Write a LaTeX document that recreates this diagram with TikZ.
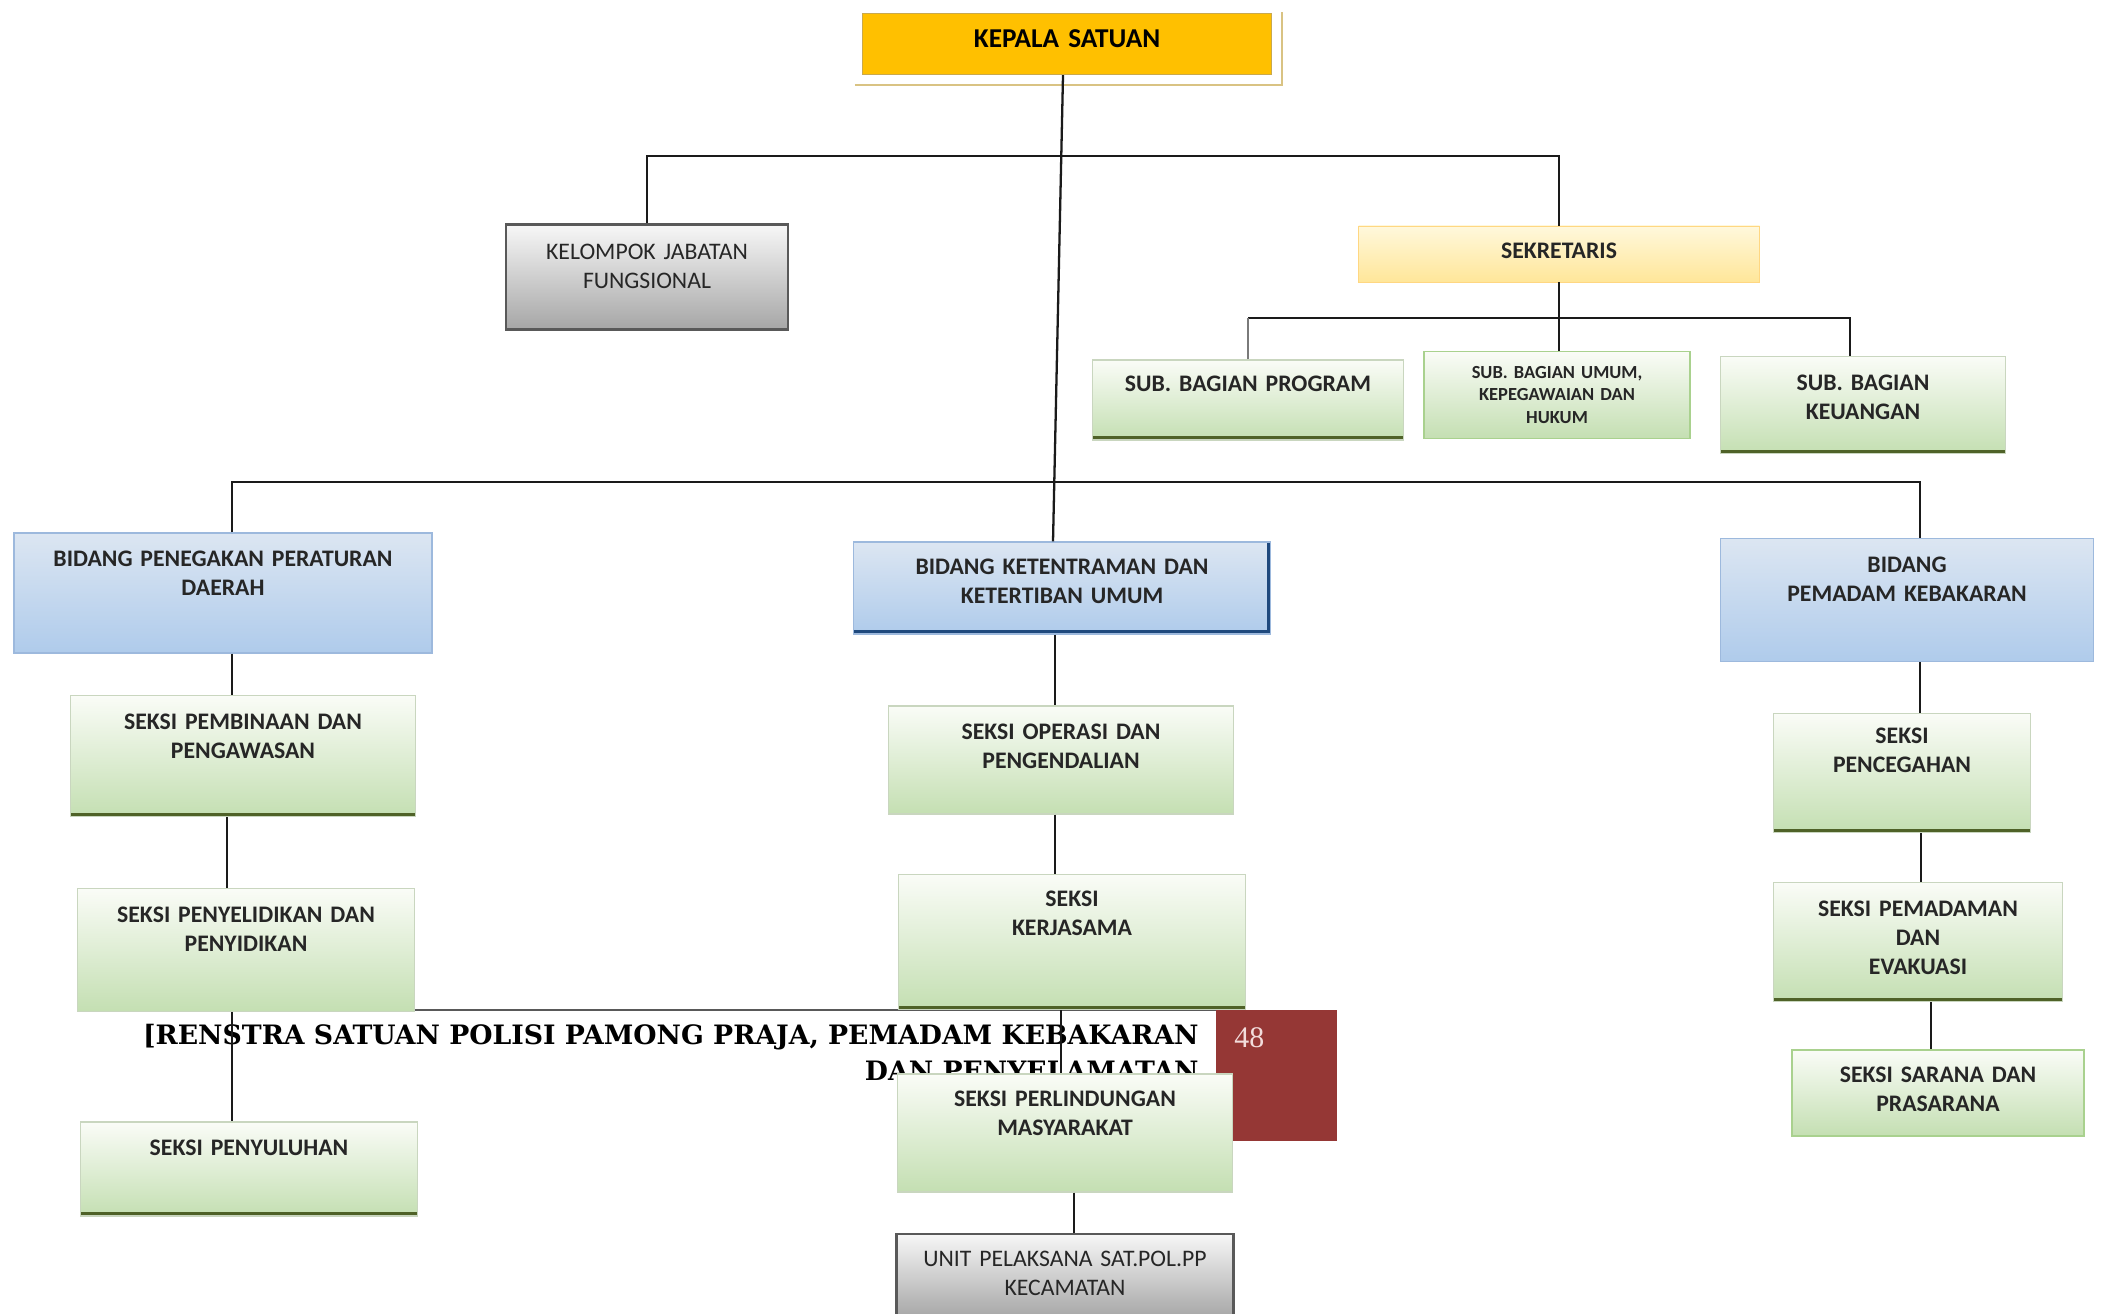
\documentclass[tikz,border=0pt]{standalone}
\usepackage{fontspec}
\setmainfont{Carlito}
\newfontfamily\renstrafont{DejaVu Serif}
\newfontfamily\nomorfont{Liberation Serif}
\usepackage{xcolor}
\usetikzlibrary{calc}

\definecolor{emas}{HTML}{FFC000}
\definecolor{bingkaiemas}{HTML}{C9A94E}
\definecolor{teks}{HTML}{262626}
\definecolor{abutepi}{HTML}{595959}
\definecolor{abuatas}{HTML}{F7F7F7}
\definecolor{abubawah}{HTML}{A6A6A6}
\definecolor{kuningatas}{HTML}{FFF8DC}
\definecolor{kuningbawah}{HTML}{FFE699}
\definecolor{hijauatas}{HTML}{FAFCF7}
\definecolor{hijaubawah}{HTML}{C4DFB2}
\definecolor{hijautepi}{HTML}{C9D6BF}
\definecolor{hijaugaris}{HTML}{A9D18E}
\definecolor{hijautua}{HTML}{4F6228}
\definecolor{biruatas}{HTML}{DCE6F2}
\definecolor{birubawah}{HTML}{AFCBEB}
\definecolor{birutepi}{HTML}{9DB9DD}
\definecolor{birutua}{HTML}{1F497D}
\definecolor{merahtua}{HTML}{953735}
\definecolor{merahmuda}{HTML}{F2DCDB}
\definecolor{garishitam}{HTML}{1A1A1A}

% teks dinaikkan: ruang kosong di bawah teks
\newdimen\geserpx
\geserpx=0.04cm
\newcommand\dorongatas[1]{\par\kern#1\geserpx}

\begin{document}
\begin{tikzpicture}[
      x=0.02cm, y=-0.02cm,
      ukuran/.style 2 args={minimum width=#1*0.02cm, minimum height=#2*0.02cm, text width=#1*0.02cm-10pt},
      naik/.style={execute at end node={\dorongatas{#1}}},
      kotak/.style={rectangle, inner sep=2pt, align=center, text=teks, font=\fontsize{13.5}{16.5}\selectfont\bfseries},
      kepala/.style={kotak, fill=emas, draw=bingkaiemas, line width=0.6pt, text=black, font=\fontsize{15.5}{18}\selectfont\bfseries},
      abu/.style={kotak, top color=abuatas, bottom color=abubawah, draw=abutepi, line width=1.2pt, font=\fontsize{13.5}{16.5}\selectfont},
      sekre/.style={kotak, top color=kuningatas, bottom color=kuningbawah, draw=kuningbawah!85!orange, line width=0.4pt},
      hijau/.style={kotak, top color=hijauatas, bottom color=hijaubawah, draw=hijautepi, line width=0.6pt},
      hijaugaris/.style={hijau, draw=hijaugaris, line width=0.9pt},
      alas/.style={path picture={\draw[#1, line width=4pt] (path picture bounding box.south west) -- (path picture bounding box.south east);}},
      biru/.style={kotak, top color=biruatas, bottom color=birubawah, draw=birutepi, line width=0.6pt},
      kecil/.style={font=\fontsize{10.5}{12.8}\selectfont\bfseries},
      garis/.style={line width=1.3pt, garishitam},
      garisabu/.style={line width=1.3pt, abutepi!80},
      bingkai/.style={line width=0.8pt, bingkaiemas!70},
      kop/.style={inner sep=0pt, align=right, text=black, font=\renstrafont\fontsize{15.2}{20.5}\selectfont\bfseries},
      halaman/.style={fill=merahtua, inner sep=0pt},
      nomor/.style={inner sep=0pt, text=merahmuda, font=\nomorfont\fontsize{17}{17}\selectfont}
  ]
    \fill [white] (0,0) rectangle (2105,1314);
    \useasboundingbox (0,0) rectangle (2105,1314);

    % Kepala halaman (renstra)
    \draw [line width=0.6pt, abutepi] (144,1010) -- (1216,1010);
    \node [kop, anchor=north east] (renstra) at (1199,1024) {[RENSTRA SATUAN POLISI PAMONG PRAJA, PEMADAM KEBAKARAN\\DAN PENYELAMATAN};
    \node [halaman, ukuran={121}{131}, anchor=north west] (halaman) at (1216,1010) {};
    \node [nomor, anchor=north west] (nomor) at (1234,1027) {48};

    % Pimpinan dan sekretariat
    \node [kepala, ukuran={409}{61}, naik=5] (kepala) at (1067,44) {KEPALA SATUAN};
    \draw [bingkai] ([shift={(-7,10)}]kepala.south west) -| ([shift={(10,-1)}]kepala.north east);
    \node [abu, ukuran={282}{105}, naik=11] (kelompok) at (647,277) {KELOMPOK JABATAN\\FUNGSIONAL};
    \node [sekre, ukuran={401}{56}, naik=3] (sekretaris) at (1559,254) {SEKRETARIS};
    \node [hijau, alas=hijautua, ukuran={311}{80}, naik=16] (program) at (1248,400) {SUB. BAGIAN PROGRAM};
    \node [hijaugaris, kecil, ukuran={266}{87}] (umum) at (1557,395) {SUB. BAGIAN UMUM,\\KEPEGAWAIAN DAN\\HUKUM};
    \node [hijau, alas=hijautua, ukuran={285}{97}, naik=8] (keuangan) at (1863,405) {SUB. BAGIAN\\KEUANGAN};

    % Bidang
    \node [biru, ukuran={418}{120}, naik=20] (penegakan) at (223,593) {BIDANG PENEGAKAN PERATURAN\\DAERAH};
    \node [biru, ukuran={417}{92}, naik=7, path picture={\draw[birutua, line width=4pt] (path picture bounding box.south west) -- (path picture bounding box.south east) -- (path picture bounding box.north east);}] (ketentraman) at (1062,588) {BIDANG KETENTRAMAN DAN\\KETERTIBAN UMUM};
    \node [biru, ukuran={373}{123}, naik=21] (pemadam) at (1907,600) {BIDANG\\PEMADAM KEBAKARAN};

    % Seksi
    \node [hijau, alas=hijautua, ukuran={345}{121}, naik=20] (pembinaan) at (243,756) {SEKSI PEMBINAAN DAN\\PENGAWASAN};
    \node [hijau, ukuran={337}{123}, naik=21] (penyelidikan) at (246,950) {SEKSI PENYELIDIKAN DAN\\PENYIDIKAN};
    \node [hijau, alas=hijautua, ukuran={337}{94}, naik=21] (penyuluhan) at (249,1169) {SEKSI PENYULUHAN};
    \node [hijau, ukuran={345}{108}, naik=14] (operasi) at (1061,760) {SEKSI OPERASI DAN\\PENGENDALIAN};
    \node [hijau, alas=hijautua, ukuran={347}{135}, naik=29] (kerjasama) at (1072,942) {SEKSI\\KERJASAMA};
    \node [hijau, ukuran={335}{118}, naik=20] (perlindungan) at (1065,1133) {SEKSI PERLINDUNGAN\\MASYARAKAT};
    \node [abu, ukuran={337}{84}, naik=3] (unit) at (1065,1276) {UNIT PELAKSANA SAT.POL.PP\\KECAMATAN};
    \node [hijau, alas=hijautua, ukuran={257}{119}, naik=23] (pencegahan) at (1902,773) {SEKSI\\PENCEGAHAN};
    \node [hijau, alas=hijautua, ukuran={289}{119}, naik=4] (pemadaman) at (1918,942) {SEKSI PEMADAMAN\\DAN\\EVAKUASI};
    \node [hijaugaris, ukuran={292}{86}, naik=4] (sarana) at (1938,1093) {SEKSI SARANA DAN\\PRASARANA};

    % Garis komando
    \coordinate (jalursatuan) at (1063,156);
    \coordinate (jalursekre) at (1555,318);
    \coordinate (jalurbidang) at (1063,482);
    \draw [garis] ([xshift=-0.08cm]kepala.south) -- ([xshift=-0.18cm]ketentraman.north);
    \draw [garis] (kelompok.north) |- (jalursatuan) -| (sekretaris.north);
    \draw [garis] (sekretaris.south) -- (sekretaris.south |- umum.north);
    \draw [garis] (program.north |- jalursekre) -| ([xshift=-0.26cm]keuangan.north);
    \draw [garisabu] (program.north) -- (program.north |- jalursekre);
    \draw [garis] ([xshift=0.18cm]penegakan.north) |- (jalurbidang) -| ([xshift=0.26cm]pemadam.north);
    \foreach \atas/\bawah/\geser in {penegakan/pembinaan/9, pembinaan/penyelidikan/-16, penyelidikan/penyuluhan/-14,
        ketentraman/operasi/-7, operasi/kerjasama/-6, kerjasama/perlindungan/-11, perlindungan/unit/9,
        pemadam/pencegahan/13, pencegahan/pemadaman/19, pemadaman/sarana/13}
      \draw [garis] ([xshift=\geser*0.02cm]\atas.south) -- ([xshift=\geser*0.02cm]\atas.south |- \bawah.north);
  \end{tikzpicture}
\end{document}
